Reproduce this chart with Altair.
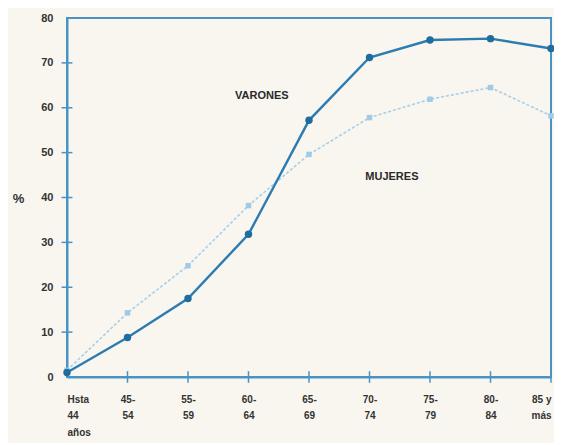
import altair as alt
import pandas as pd

categories = ["Hsta|44|años", "45-|54", "55-|59", "60-|64", "65-|69", "70-|74", "75-|79", "80-|84", "85 y|más"]
varones = [1.0, 8.8, 17.5, 31.8, 57.2, 71.2, 75.1, 75.4, 73.2]
mujeres = [1.5, 14.3, 24.8, 38.2, 49.6, 57.8, 61.9, 64.5, 58.2]
y_ticks = [0, 10, 20, 30, 40, 50, 60, 70, 80]
annot_text = ["VARONES", "MUJERES"]
annot_x = [3.22, 5.37]
annot_y = [62.6, 44.5]

rows = []
for i, (v, m) in enumerate(zip(varones, mujeres)):
    rows.append({"idx": i, "serie": "Varones", "val": v})
    rows.append({"idx": i, "serie": "Mujeres", "val": m})
df = pd.DataFrame(rows)
dv = df[df.serie == "Varones"]
dm = df[df.serie == "Mujeres"]

arr = "[" + ",".join("[" + ",".join("'" + p + "'" for p in c.split("|")) + "]" for c in categories) + "]"

AX = "#4a93c6"
xs = alt.Scale(domain=[0, len(categories) - 1], nice=False)
ys = alt.Scale(domain=[0, 80], nice=False)

x_enc = alt.X("idx:Q", scale=xs, axis=alt.Axis(
    values=list(range(len(categories))), labelExpr=arr + "[datum.value]",
    title=None, grid=False, ticks=False, domainColor=AX, domainWidth=2,
    labelFont="Liberation Sans", labelFontSize=10, labelFontWeight="bold",
    labelColor="#333333", labelPadding=17, labelLineHeight=16.5, labelBaseline="top"))
y_enc = alt.Y("val:Q", scale=ys, axis=alt.Axis(
    values=y_ticks, title="%", titleAngle=0, titleX=-49, titleY=180,
    titleAlign="center", titleBaseline="middle", titleFont="Liberation Sans",
    titleFontSize=13, titleFontWeight="bold", titleColor="#333333",
    grid=False, ticks=False, domainColor=AX, domainWidth=2,
    labelFont="Liberation Sans", labelFontSize=11, labelFontWeight="bold",
    labelColor="#333333", labelPadding=14))

line_m = alt.Chart(dm).mark_line(color="#a7cfea", strokeWidth=1.6, strokeDash=[3, 2]).encode(x=x_enc, y=y_enc)
pts_m = alt.Chart(dm).mark_point(shape="square", filled=True, color="#9fcbe8", size=30, opacity=1).encode(x="idx:Q", y="val:Q")
line_v = alt.Chart(dv).mark_line(color="#2c7cb2", strokeWidth=2.4).encode(x="idx:Q", y="val:Q")
pts_v = alt.Chart(dv).mark_point(shape="circle", filled=True, color="#1f6c9f", size=55, opacity=1).encode(x="idx:Q", y="val:Q")

ytk = pd.DataFrame({"v": y_ticks[1:-1]})
ytick_marks = alt.Chart(ytk).mark_rule(color=AX, strokeWidth=1.5).encode(
    y="v:Q", x=alt.datum(-0.09), x2=alt.datum(0.09))
xtk = pd.DataFrame({"i": list(range(1, len(categories)))})
xtick_marks = alt.Chart(xtk).mark_rule(color=AX, strokeWidth=1.5).encode(
    x="i:Q", y=alt.datum(-1.3), y2=alt.datum(1.3))

ann = pd.DataFrame({"t": annot_text, "x": annot_x, "y": annot_y})
text = alt.Chart(ann).mark_text(font="Liberation Sans", fontSize=11, fontWeight="bold",
                                color="#2a2a2a", align="center", baseline="middle").encode(
    x="x:Q", y="y:Q", text="t:N")

chart = alt.layer(line_m, pts_m, line_v, pts_v, ytick_marks, xtick_marks, text).properties(
    width=484, height=359,
    autosize=alt.AutoSizeParams(type="none"),
    padding={"left": 59, "top": 10, "right": 3, "bottom": 66},
    background="#f8f6ef",
).configure_view(stroke=AX, strokeWidth=2)

chart.save("out.html", embed_options={"renderer": "svg", "actions": False})
